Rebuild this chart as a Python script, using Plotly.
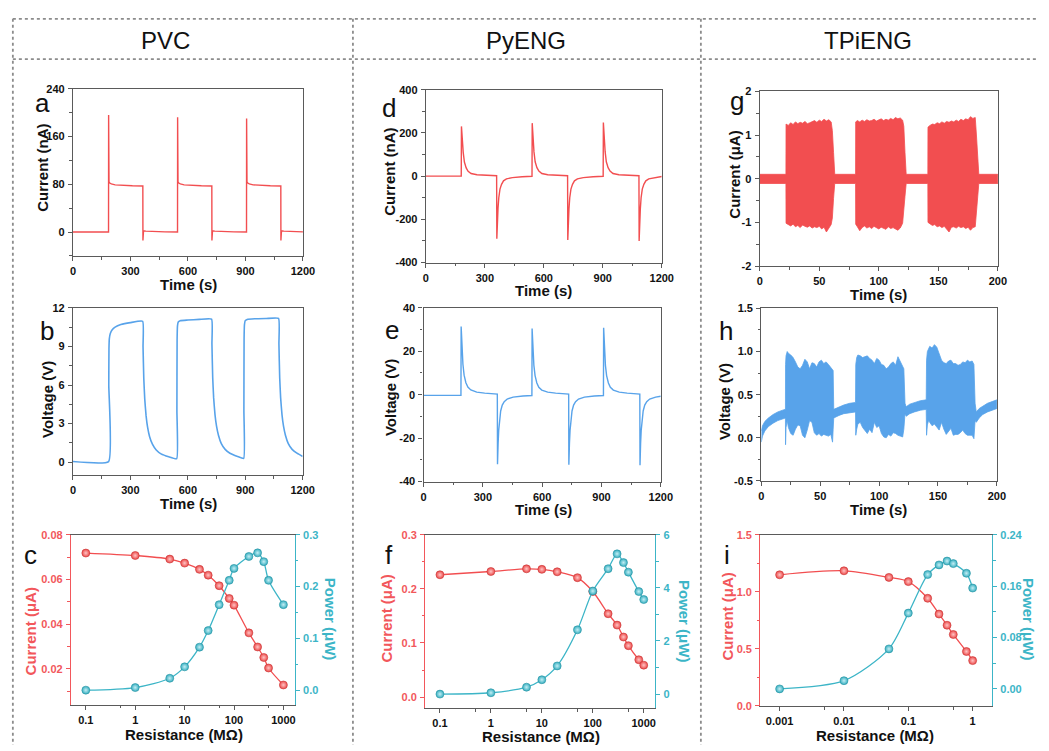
import plotly.graph_objects as go

W, H = 1049, 751
FONT = "Liberation Sans, Arial, Helvetica, sans-serif"
RED = "#f24e50"
BLUE = "#58a3ea"
CYAN = "#3cb5c7"
RED_TXT = "#f2575b"
FRAME = "#5a5a5a"
INK = "#111111"

# ---------------- PVC ----------------
a_time = [0, 185.5, 186, 186.6, 188, 192, 200, 220, 260, 310, 364.5,
          365, 365.6, 368, 380, 420, 480, 545.5,
          546, 546.6, 548, 552, 560, 580, 620, 670, 724.5,
          725, 725.6, 728, 740, 780, 840, 905.5,
          906, 906.6, 908, 912, 920, 940, 980, 1030, 1084.5,
          1085, 1085.6, 1088, 1100, 1140, 1200]
a_current = [0, 0, 196, 130, 84, 82, 80.5, 79, 78, 77.5, 77,
             -14, 2.5, 2, 1.5, 0.8, 0.3, 0.1,
             192, 128, 84, 82, 80.5, 79, 78, 77.5, 77,
             -14, 2.5, 2, 1.5, 0.8, 0.3, 0.1,
             190, 126, 84, 82, 80.5, 79, 78, 77.5, 77,
             -14, 2.5, 2, 1.5, 0.8, 0.3]

b_time = [0, 186, 187, 188, 190, 195, 205, 220, 250, 300, 364,
          366, 370, 375, 382, 390, 400, 415, 435, 460, 500, 542,
          543, 544, 546, 550, 560, 600, 660, 724,
          726, 730, 735, 742, 750, 760, 775, 795, 820, 860, 892,
          893, 894, 896, 900, 910, 950, 1010, 1074,
          1076, 1080, 1085, 1092, 1100, 1110, 1125, 1145, 1170, 1200]
b_voltage = [0.05, 0.05, 6.0, 8.8, 9.6, 10.0, 10.3, 10.5, 10.7, 10.85, 10.95,
             9.0, 6.5, 4.9, 3.6, 2.7, 2.0, 1.4, 0.95, 0.65, 0.42, 0.27,
             4.0, 9.5, 10.6, 10.9, 11.0, 11.05, 11.1, 11.12,
             9.2, 6.6, 5.0, 3.7, 2.8, 2.1, 1.45, 1.0, 0.7, 0.45, 0.3,
             4.0, 9.6, 10.7, 11.0, 11.1, 11.15, 11.17, 11.18,
             9.2, 6.6, 5.0, 3.7, 2.8, 2.1, 1.45, 1.0, 0.7, 0.45]

c_res = [0.1, 1, 5, 10, 20, 30, 50, 80, 100, 200, 300, 400, 500, 1000]
c_current = [0.0718, 0.0707, 0.0691, 0.0673, 0.0645, 0.0619, 0.0572, 0.0515,
             0.0485, 0.0361, 0.0298, 0.0251, 0.0204, 0.0128]
c_power = [0.000, 0.005, 0.023, 0.045, 0.083, 0.115, 0.165, 0.212,
           0.235, 0.258, 0.265, 0.248, 0.212, 0.165]

# ---------------- PyENG ----------------
d_time = [0, 180, 181, 183, 186, 190, 196, 205, 215, 230, 260, 300, 360,
          361, 362, 364, 367, 371, 377, 385, 395, 410, 440, 490, 540,
          541, 543, 546, 550, 556, 565, 575, 590, 620, 660, 721,
          722, 723, 725, 728, 732, 738, 746, 756, 771, 801, 851, 902,
          903, 905, 908, 912, 918, 927, 937, 952, 982, 1022, 1084,
          1085, 1086, 1088, 1091, 1095, 1101, 1109, 1119, 1134, 1164, 1200]
d_current = [0, 0, 230, 190, 145, 110, 65, 38, 22, 12, 6, 3, 1.5,
             -290, -250, -200, -150, -100, -60, -38, -22, -13, -7, -3, -1,
             245, 200, 150, 112, 66, 39, 23, 12, 6, 3, 1.5,
             -296, -255, -205, -152, -100, -60, -38, -22, -13, -7, -3, -1,
             248, 202, 152, 113, 66, 39, 23, 12, 6, 3, 1.5,
             -300, -258, -207, -153, -100, -60, -38, -22, -13, -7, -2]

e_time = [0, 189, 190, 192, 195, 199, 205, 214, 224, 239, 269, 309, 373,
          374, 375, 377, 380, 384, 390, 398, 408, 423, 453, 503, 548,
          549, 551, 554, 558, 564, 573, 583, 598, 628, 668, 734,
          735, 736, 738, 741, 745, 751, 759, 769, 784, 814, 864, 910,
          911, 913, 916, 920, 926, 935, 945, 960, 990, 1030, 1094,
          1095, 1096, 1098, 1101, 1105, 1111, 1119, 1129, 1144, 1174, 1200]
e_voltage = [-0.3, -0.3, 31.4, 26, 19.5, 14, 9, 5.5, 3.5, 2.2, 1.2, 0.7, 0.3,
             -32, -28, -22.5, -16.5, -11.5, -7.5, -4.8, -3.2, -2, -1.1, -0.6, -0.4,
             30.5, 25.5, 19, 13.5, 8.8, 5.4, 3.4, 2.1, 1.2, 0.7, 0.3,
             -32.3, -28, -22.5, -16.5, -11.5, -7.5, -4.8, -3.2, -2, -1.1, -0.6, -0.4,
             30.8, 25.5, 19, 13.5, 8.8, 5.4, 3.4, 2.1, 1.2, 0.7, 0.3,
             -32.5, -28, -22.5, -16.5, -11.5, -7.5, -4.8, -3.2, -2, -1.1, -0.7]

f_res = [0.1, 1, 5, 10, 20, 50, 100, 200, 300, 400, 500, 800, 1000]
f_current = [0.226, 0.232, 0.237, 0.236, 0.2315, 0.2206, 0.195, 0.154,
             0.133, 0.111, 0.095, 0.069, 0.059]
f_power = [0.0, 0.05, 0.26, 0.54, 1.06, 2.42, 3.88, 4.72, 5.28, 4.95, 4.59, 3.86, 3.56]

# ---------------- TPiENG (envelopes of the dense oscillation) ----------------
g_time = [0, 22.0,
          22.1, 24, 26, 28, 30, 32, 34, 36, 38, 40, 42, 44, 46, 48, 50, 52, 54, 56, 58, 60, 61, 62, 63,
          80.5, 80.6, 82, 84, 86, 88, 90, 92, 94, 96, 98, 100, 102, 104, 106, 108, 110, 112, 114,
          116, 118, 120, 121, 122, 123,
          141.2, 141.3, 143, 145, 147, 149, 151, 153, 155, 157, 159, 161, 163, 165, 167, 169, 171,
          173, 175, 177, 179, 181, 182, 183, 184, 200]
g_high = [0.10, 0.10,
          1.25, 1.22, 1.28, 1.24, 1.30, 1.26, 1.29, 1.27, 1.31, 1.26, 1.28, 1.30, 1.33, 1.29, 1.34,
          1.31, 1.36, 1.32, 1.35, 1.30, 1.10, 0.60, 0.10,
          0.10, 1.30, 1.33, 1.30, 1.34, 1.31, 1.35, 1.32, 1.33, 1.36, 1.32, 1.35, 1.37, 1.33, 1.36,
          1.34, 1.38, 1.35, 1.40, 1.37, 1.39, 1.34, 1.20, 0.60, 0.10,
          0.10, 1.18, 1.22, 1.25, 1.24, 1.28, 1.26, 1.30, 1.27, 1.31, 1.29, 1.32, 1.30, 1.34, 1.31,
          1.36, 1.33, 1.37, 1.35, 1.42, 1.38, 1.40, 1.00, 0.50, 0.10, 0.10]
g_low = [-0.11, -0.11,
         -1.02, -1.05, -1.08, -1.04, -1.10, -1.07, -1.12, -1.06, -1.09, -1.11, -1.08, -1.13, -1.10,
         -1.12, -1.09, -1.15, -1.11, -1.22, -1.13, -1.05, -0.90, -0.45, -0.11,
         -0.11, -1.04, -1.10, -1.19, -1.12, -1.08, -1.13, -1.10, -1.14, -1.09, -1.12, -1.15, -1.11,
         -1.13, -1.16, -1.10, -1.14, -1.12, -1.15, -1.18, -1.13, -1.02, -0.85, -0.40, -0.11,
         -0.11, -1.00, -1.04, -1.07, -1.05, -1.10, -1.08, -1.12, -1.09, -1.14, -1.22, -1.11, -1.10,
         -1.13, -1.09, -1.12, -1.10, -1.14, -1.11, -1.18, -1.12, -1.10, -0.80, -0.40, -0.11, -0.11]

h_time = [0, 1, 3, 6, 10, 14, 18, 20.5,
          20.6, 21, 22, 23, 25, 27, 29, 31, 33, 35, 37, 39, 41, 43, 45, 47, 49, 51, 53, 55, 57, 59,
          60.5, 61, 61.5,
          63, 66, 70, 75, 80,
          80.2, 81, 82, 84, 86, 88, 90, 92, 94, 96, 98, 100, 102, 104, 106, 108, 110, 112, 114, 116,
          118, 120, 121, 122,
          123, 126, 130, 135, 140,
          140.3, 141, 142, 143, 145, 147, 149, 151, 153, 155, 157, 159, 161, 163, 165, 167, 169, 171,
          173, 175, 177, 179, 180.5, 181.5,
          182.5, 185, 188, 192, 196, 200]
h_high = [0.08, 0.14, 0.19, 0.23, 0.27, 0.30, 0.32, 0.33,
          0.85, 0.95, 1.00, 0.98, 0.96, 0.93, 0.88, 0.82, 0.80, 0.84, 0.91, 0.88, 0.80, 0.87, 0.86,
          0.82, 0.88, 0.90, 0.86, 0.88, 0.85, 0.82, 0.80, 0.78, 0.33,
          0.34, 0.36, 0.38, 0.40, 0.41,
          0.85, 0.93, 0.96, 0.95, 0.93, 0.94, 0.95, 0.92, 0.90, 0.86, 0.92, 0.90, 0.85, 0.84, 0.80,
          0.82, 0.86, 0.88, 0.84, 0.94, 0.88, 0.82, 0.80, 0.40,
          0.36, 0.39, 0.41, 0.43, 0.44,
          0.90, 1.00, 1.04, 1.06, 1.04, 1.08, 1.05, 0.98, 0.90, 0.87, 0.86, 0.89, 0.90, 0.86, 0.86,
          0.84, 0.85, 0.88, 0.87, 0.90, 0.88, 0.89, 0.85, 0.40,
          0.30, 0.34, 0.37, 0.40, 0.42, 0.44]
h_low = [-0.05, 0.02, 0.08, 0.13, 0.17, 0.20, 0.22, 0.23,
         -0.08, 0.12, 0.20, 0.12, 0.05, 0.03, 0.10, 0.15, 0.14, 0.03, 0.00, 0.09, 0.20, 0.18, 0.06,
         0.03, 0.05, 0.02, 0.04, 0.03, 0.02, 0.04, -0.05, 0.10, 0.23,
         0.24, 0.26, 0.28, 0.29, 0.30,
         0.03, 0.10, 0.16, 0.18, 0.12, 0.08, 0.05, 0.10, 0.06, 0.18, 0.12, 0.14, 0.05, 0.01, 0.00,
         0.04, 0.02, 0.06, 0.05, 0.03, 0.02, 0.01, 0.10, 0.28,
         0.25, 0.28, 0.30, 0.32, 0.33,
         0.03, 0.15, 0.20, 0.18, 0.14, 0.16, 0.12, 0.09, 0.18, 0.10, 0.04, 0.08, 0.11, 0.03, 0.04,
         0.04, 0.06, 0.09, 0.05, 0.03, 0.03, 0.03, -0.01, 0.20,
         0.18, 0.23, 0.27, 0.30, 0.32, 0.34]

i_res = [0.001, 0.01, 0.05, 0.1, 0.2, 0.3, 0.4, 0.5, 0.8, 1]
i_current = [1.149, 1.184, 1.126, 1.089, 0.943, 0.805, 0.707, 0.626, 0.477, 0.397]
i_power = [0.0, 0.0128, 0.0623, 0.118, 0.178, 0.193, 0.199, 0.195, 0.180, 0.157]

for xs, ys in [(a_time, a_current), (b_time, b_voltage), (d_time, d_current),
               (e_time, e_voltage), (g_time, g_high), (g_time, g_low),
               (h_time, h_high), (h_time, h_low)]:
    assert len(xs) == len(ys), (len(xs), len(ys))


# ---------------- helpers ----------------
def dom_x(x0, x1):
    return [x0 / W, x1 / W]


def dom_y(y0, y1):
    return [1 - y1 / H, 1 - y0 / H]


def axname(kind, n):
    return f"{kind}axis" + ("" if n == 1 else str(n))


def ref(kind, n):
    return kind + ("" if n == 1 else str(n))


def make_axis(domain, rng, vals, fmt, minor=None, color=FRAME, label_color=INK,
              mirror=True, **kw):
    d = dict(domain=domain, range=rng, showline=True, linecolor=color, linewidth=1.3,
             mirror=mirror, ticks="outside", ticklen=4, tickwidth=1.2, tickcolor=color,
             showgrid=False, zeroline=False, fixedrange=True, ticklabelstandoff=1,
             tickmode="array", tickvals=vals, ticktext=[fmt.format(v) for v in vals],
             tickfont=dict(family=FONT, size=11, color=label_color, weight="bold"))
    if minor is not None:
        d["minor"] = dict(ticks="outside", ticklen=2.5, tickwidth=1, tickcolor=color,
                          showgrid=False, **minor)
    d.update(kw)
    return d


def label(x, y, s, size, color=INK, bold=True, angle=0):
    fig.add_annotation(x=x / W, y=1 - y / H, xref="paper", yref="paper", text=s,
                       showarrow=False, textangle=angle, xanchor="center",
                       yanchor="middle", borderpad=0,
                       font=dict(family=FONT, size=size, color=color,
                                 weight="bold" if bold else "normal"))


fig = go.Figure()
layout = {}

# ---------------- time-domain panels ----------------
time_panels = [
    # n, (x0, x1, y0, y1) px box, x range, x ticks, x minor, y range, y ticks, y fmt, y minor
    (1, (71, 304.3, 84, 254), [0, 1200], [0, 300, 600, 900, 1200], 150,
     [-40, 240], [0, 80, 160, 240], "{:g}", 40),
    (2, (71, 304, 306.7, 476.7), [0, 1200], [0, 300, 600, 900, 1200], 150,
     [-1, 12], [0, 3, 6, 9, 12], "{:g}", 1.5),
    (4, (429, 668.3, 85, 260.7), [0, 1200], [0, 300, 600, 900, 1200], 150,
     [-400, 400], [-400, -200, 0, 200, 400], "{:g}", 100),
    (5, (426.7, 667.3, 306.7, 483.3), [0, 1200], [0, 300, 600, 900, 1200], 150,
     [-40, 40], [-40, -20, 0, 20, 40], "{:g}", 10),
    (7, (767.7, 1009.3, 86.7, 264.3), [0, 200], [0, 50, 100, 150, 200], 25,
     [-2, 2], [-2, -1, 0, 1, 2], "{:g}", 0.5),
    (8, (769.3, 1008.3, 307.3, 482.7), [0, 200], [0, 50, 100, 150, 200], 25,
     [-0.5, 1.5], [-0.5, 0, 0.5, 1.0, 1.5], "{:.1f}", 0.25),
]
for n, (x0, x1, y0, y1), xr, xv, xm, yr, yv, yf, ym in time_panels:
    layout[axname("x", n)] = make_axis(dom_x(x0, x1), xr, xv, "{:g}",
                                       minor=dict(dtick=xm, tick0=0), anchor=ref("y", n))
    layout[axname("y", n)] = make_axis(dom_y(y0, y1), yr, yv, yf,
                                       minor=dict(dtick=ym, tick0=0), anchor=ref("x", n))

fig.add_trace(go.Scatter(x=a_time, y=a_current, mode="lines", xaxis="x", yaxis="y",
                         line=dict(color=RED, width=1.4)))
fig.add_trace(go.Scatter(x=b_time, y=b_voltage, mode="lines", xaxis="x2", yaxis="y2",
                         line=dict(color=BLUE, width=1.6, shape="spline", smoothing=0.4)))
fig.add_trace(go.Scatter(x=d_time, y=d_current, mode="lines", xaxis="x4", yaxis="y4",
                         line=dict(color=RED, width=1.4)))
fig.add_trace(go.Scatter(x=e_time, y=e_voltage, mode="lines", xaxis="x5", yaxis="y5",
                         line=dict(color=BLUE, width=1.4)))
fig.add_trace(go.Scatter(x=g_time + g_time[::-1], y=g_high + g_low[::-1], mode="lines",
                         xaxis="x7", yaxis="y7", fill="toself", fillcolor=RED,
                         line=dict(color=RED, width=0.8)))
fig.add_trace(go.Scatter(x=h_time + h_time[::-1], y=h_high + h_low[::-1], mode="lines",
                         xaxis="x8", yaxis="y8", fill="toself", fillcolor=BLUE,
                         line=dict(color=BLUE, width=0.8)))

# ---------------- load-resistance panels ----------------
res_panels = [
    # n, right-axis n, box, log x range, x ticks, x minor, left range/ticks/fmt/minor, right range/ticks/fmt/minor
    (3, 10, (69, 296, 537.3, 710), [-1.3, 3.23], [0.1, 1, 10, 100, 1000], [0.5, 5, 50, 500],
     [0.004, 0.08], [0.02, 0.04, 0.06, 0.08], "{:.2f}", 0.01,
     [-0.028, 0.3], [0, 0.1, 0.2, 0.3], "{:.1f}", 0.05,
     c_res, c_current, c_power),
    (6, 11, (428.3, 661.7, 537.3, 713.3), [-1.29, 3.226], [0.1, 1, 10, 100, 1000],
     [0.5, 5, 50, 500],
     [-0.02, 0.3], [0, 0.1, 0.2, 0.3], "{:.1f}", 0.05,
     [-0.52, 6], [0, 2, 4, 6], "{:g}", 1,
     f_res, f_current, f_power),
    (9, 12, (768.3, 1003.3, 537.3, 711.3), [-3.3, 0.3], [0.001, 0.01, 0.1, 1],
     [0.005, 0.05, 0.5],
     [0, 1.5], [0, 0.5, 1.0, 1.5], "{:.1f}", 0.25,
     [-0.0265, 0.24], [0, 0.08, 0.16, 0.24], "{:.2f}", 0.04,
     i_res, i_current, i_power),
]
for (n, m, (x0, x1, y0, y1), xr, xv, xmv, lr, lv, lf, lm, rr, rv, rf, rm,
     res, cur, pwr) in res_panels:
    layout[axname("x", n)] = make_axis(dom_x(x0, x1), xr, xv, "{:g}", type="log",
                                       minor=dict(tickmode="array", tickvals=xmv),
                                       anchor=ref("y", n))
    layout[axname("y", n)] = make_axis(dom_y(y0, y1), lr, lv, lf, color=RED_TXT,
                                       label_color=RED_TXT, mirror=False,
                                       minor=dict(dtick=lm, tick0=0), anchor=ref("x", n))
    layout[axname("y", m)] = make_axis(dom_y(y0, y1), rr, rv, rf, color=CYAN,
                                       label_color=CYAN, mirror=False, side="right",
                                       overlaying=ref("y", n), anchor=ref("x", n),
                                       minor=dict(dtick=rm, tick0=0))
    fig.add_trace(go.Scatter(
        x=res, y=cur, mode="lines+markers", xaxis=ref("x", n), yaxis=ref("y", n),
        line=dict(color=RED, width=1.3, shape="spline", smoothing=0.8),
        marker=dict(size=8, color="#ec4848", line=dict(color="#c83838", width=0.6),
                    gradient=dict(type="radial", color="#ffc4c4"))))
    fig.add_trace(go.Scatter(
        x=res, y=pwr, mode="lines+markers", xaxis=ref("x", n), yaxis=ref("y", m),
        line=dict(color=CYAN, width=1.3, shape="spline", smoothing=0.8),
        marker=dict(size=8, color="#34aec0", line=dict(color="#2a93a3", width=0.6),
                    gradient=dict(type="radial", color="#c4eef4"))))

# ---------------- dotted frame ----------------
DOT = dict(color="#8c8c8c", width=1.8, dash="dot")
frame_lines = [
    (10, 13, W, 13), (10, 54, W, 54),
    (10, 13, 10, H), (355, 13, 355, H), (708, 13, 708, H),
]
shapes = [dict(type="line", xref="paper", yref="paper", x0=xa / W, y0=1 - ya / H,
               x1=xb / W, y1=1 - yb / H, line=DOT) for xa, ya, xb, yb in frame_lines]

fig.update_layout(width=W, height=H, margin=dict(l=0, r=0, t=0, b=0),
                  paper_bgcolor="white", plot_bgcolor="white", showlegend=False,
                  shapes=shapes, **layout)

# ---------------- column headers ----------------
label(165, 35, "PVC", 24, bold=False)
label(531, 35, "PyENG", 24, bold=False)
label(878, 35, "TPiENG", 24, bold=False)

# ---------------- panel letters ----------------
for s, x, y in [("a", 40, 99), ("b", 45, 330), ("c", 28, 558),
                ("d", 392, 104), ("e", 395, 329), ("f", 392, 558),
                ("g", 745, 97), ("h", 733, 330), ("i", 735, 558)]:
    label(x, y, s, 26, bold=False)

# ---------------- axis titles ----------------
TS = 15
label(40, 164, "Current (nA)", TS, angle=-90)
label(188, 283, "Time (s)", TS)
label(45, 400, "Voltage (V)", TS, angle=-90)
label(188, 506, "Time (s)", TS)
label(28, 636, "Current (\u03bcA)", TS, color=RED_TXT, angle=-90)
label(333, 623, "Power (\u03bcW)", TS, color=CYAN, angle=90)
label(184, 740, "Resistance (M\u03a9)", TS)

label(392, 168, "Current (nA)", TS, angle=-90)
label(548, 289, "Time (s)", TS)
label(393, 398, "Voltage (V)", TS, angle=-90)
label(548, 512, "Time (s)", TS)
label(389, 622, "Current (\u03bcA)", TS, color=RED_TXT, angle=-90)
label(692, 625, "Power (\u03bcW)", TS, color=CYAN, angle=90)
label(546, 742, "Resistance (M\u03a9)", TS)

label(742, 171, "Current (\u03bcA)", TS, angle=-90)
label(888, 293, "Time (s)", TS)
label(732, 402, "Voltage (V)", TS, angle=-90)
label(888, 512, "Time (s)", TS)
label(735, 620, "Current (\u03bcA)", TS, color=RED_TXT, angle=-90)
label(1041, 623, "Power (\u03bcW)", TS, color=CYAN, angle=90)
label(885, 741, "Resistance (M\u03a9)", TS)

fig.write_html("out.html")
